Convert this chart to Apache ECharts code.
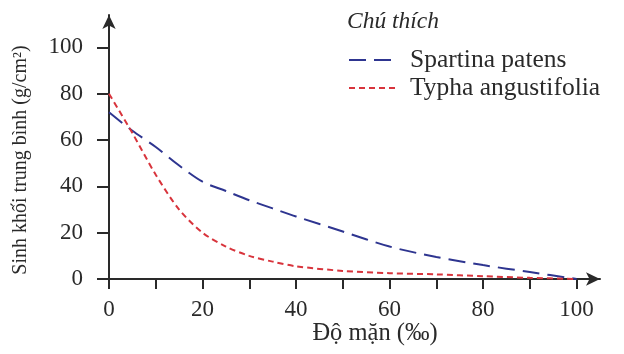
<!DOCTYPE html>
<html>
<head>
<meta charset="utf-8">
<script src="https://cdn.jsdelivr.net/npm/echarts@6/dist/echarts.min.js"></script>
<style>
  html, body { margin: 0; padding: 0; background: #fff; }
  #chart { width: 624px; height: 354px; }
</style>
</head>
<body>
<div id="chart"></div>
<script>
// độ mặn (‰) và sinh khối trung bình
var salinity = [0, 5, 10, 15, 20, 25, 30, 35, 40, 50, 60, 70, 80, 90, 100];
var spartina = [72, 64, 57, 49, 42, 38, 34, 30.5, 27, 20.5, 14, 9.5, 6, 3, 0];
var typha = [80, 63, 45, 30, 20, 14, 10, 7.5, 5.5, 3.5, 2.5, 2, 1.2, 0.5, 0];
var yTicks = [0, 20, 40, 60, 80, 100];
var xTicks = [0, 10, 20, 30, 40, 50, 60, 70, 80, 90, 100];
var xLabels = [0, 20, 40, 60, 80, 100];

var serif = 'Liberation Serif';
var ink = '#2a2a2a';

function pairs(xs, ys) {
  return xs.map(function (x, i) { return [x, ys[i]]; });
}

var chart = echarts.init(document.getElementById('chart'));
var option = {
  backgroundColor: '#ffffff',
  animation: false,
  title: {
    text: 'Chú thích',
    left: 342,
    top: 5,
    textStyle: { fontFamily: serif, fontStyle: 'italic', fontWeight: 'normal', fontSize: 23.5, color: ink }
  },
  legend: {
    orient: 'vertical',
    left: 343,
    top: 42,
    itemWidth: 48,
    itemHeight: 14,
    itemGap: 2,
    itemStyle: { opacity: 0, borderWidth: 0 },
    textStyle: { fontFamily: serif, fontSize: 25.5, color: ink, padding: [0, 0, 0, 8] },
    data: ['Spartina patens', 'Typha angustifolia']
  },
  grid: { left: 109, right: 24, top: 15, bottom: 75 },
  xAxis: {
    type: 'value',
    min: 0,
    max: 105,
    splitLine: { show: false },
    axisLine: { lineStyle: { color: ink, width: 2 }, symbol: ['none', 'arrow'], symbolSize: [10, 14] },
    axisTick: { show: true, length: 10, lineStyle: { color: ink, width: 2 }, customValues: xTicks },
    axisLabel: { margin: 19, fontFamily: serif, fontSize: 23, color: ink, customValues: xLabels }
  },
  yAxis: {
    type: 'value',
    min: 0,
    max: 114,
    splitLine: { show: false },
    axisLine: { show: true, lineStyle: { color: ink, width: 2 }, symbol: ['none', 'arrow'], symbolSize: [10, 14] },
    axisTick: { show: true, length: 12, lineStyle: { color: ink, width: 2 }, customValues: yTicks },
    axisLabel: { margin: 26, fontFamily: serif, fontSize: 23, color: ink, customValues: yTicks }
  },
  graphic: [
    {
      type: 'text',
      x: 375, y: 334,
      style: { text: 'Độ mặn (‰)', font: '24.5px "Liberation Serif"', fill: ink, align: 'center', verticalAlign: 'middle' }
    },
    {
      type: 'text',
      x: 21, y: 160,
      rotation: Math.PI / 2,
      style: { text: 'Sinh khối trung bình (g/cm²)', font: '20px "Liberation Serif"', fill: ink, align: 'center', verticalAlign: 'middle' }
    }
  ],
  series: [
    {
      name: 'Spartina patens',
      type: 'line',
      smooth: 0.3,
      symbol: 'none',
      itemStyle: { color: '#2e3590' },
      lineStyle: { color: '#2e3590', width: 2, type: [17, 8] },
      data: pairs(salinity, spartina)
    },
    {
      name: 'Typha angustifolia',
      type: 'line',
      smooth: 0.3,
      symbol: 'none',
      itemStyle: { color: '#d8343c' },
      lineStyle: { color: '#d8343c', width: 2, type: [6, 4] },
      data: pairs(salinity, typha)
    }
  ]
};
chart.setOption(option);
</script>
</body>
</html>
